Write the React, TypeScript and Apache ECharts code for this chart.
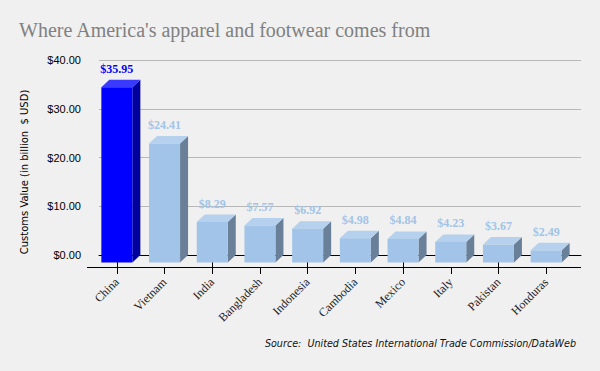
import React, { useEffect, useRef } from "react";
import * as echarts from "echarts";

const categories = ["China", "Vietnam", "India", "Bangladesh", "Indonesia", "Cambodia", "Mexico", "Italy", "Pakistan", "Honduras"];
const values = [35.95, 24.41, 8.29, 7.57, 6.92, 4.98, 4.84, 4.23, 3.67, 2.49];
const highlighted = ["China"];
const yTicks = [0, 10, 20, 30, 40];

const TITLE = "Where America's apparel and footwear comes from";
const Y_NAME = "Customs Value (in billion  $ USD)";
const SOURCE = "Source:  United States International Trade Commission/DataWeb";

const normalColors = { front: "#a1c4e8", side: "#6a8099", top: "#b5d1ee", label: "#a1c4e8" };
const hiColors = { front: "#0000ff", side: "#00009c", top: "#3a3aff", label: "#0000ff" };

export default function App() {
  const ref = useRef<HTMLDivElement>(null);
  useEffect(() => {
    document.body.style.margin = "0";
    if (!ref.current) return;
    const chart = echarts.init(ref.current, undefined, { renderer: "svg" });
    const DX = 8;
    const DY = 7.5;
    const option: any = {
      animation: false,
      backgroundColor: "#f0f0f0",
      title: {
        text: TITLE,
        left: 19,
        top: 20,
        padding: 0,
        textStyle: { fontFamily: "Liberation Serif", fontSize: 20, fontWeight: "normal", color: "#808080" },
      },
      graphic: [
        {
          type: "line",
          shape: { x1: 87, y1: 267.5, x2: 581, y2: 267.5 },
          style: { stroke: "#000", lineWidth: 1 },
          z: 10,
        },
        {
          type: "text",
          x: 24.5,
          y: 172,
          rotation: Math.PI / 2,
          style: {
            text: Y_NAME,
            fontFamily: "DejaVu Sans",
            fontSize: 10,
            fill: "#000",
            align: "center",
            verticalAlign: "middle",
          },
        },
        {
          type: "text",
          right: 24,
          top: 338,
          style: {
            text: SOURCE,
            fontFamily: "DejaVu Sans",
            fontStyle: "italic",
            fontSize: 9.6,
            fill: "#111",
          },
        },
      ],
      grid: [
        { left: 99, width: 482, top: 60, height: 195 },
        { left: 101, width: 477, top: 60, height: 195 },
        { left: 93, width: 477, top: 67, height: 200 },
      ],
      xAxis: [
        {
          type: "category",
          gridIndex: 0,
          data: categories,
          axisLine: { show: true, lineStyle: { color: "#000", width: 1 } },
          axisTick: { show: false },
          axisLabel: { show: false },
        },
        {
          type: "category",
          gridIndex: 1,
          data: categories,
          show: false,
        },
        {
          type: "category",
          gridIndex: 2,
          data: categories,
          axisLine: { show: false },
          axisTick: { show: true, alignWithLabel: true, length: 7, lineStyle: { color: "#000" } },
          axisLabel: {
            rotate: 45,
            margin: 13,
            fontFamily: "Liberation Serif",
            fontSize: 12,
            color: "#222",
          },
        },
        {
          type: "category",
          gridIndex: 2,
          data: categories,
          position: "bottom",
          axisLine: { show: false },
          axisTick: { show: true, inside: true, alignWithLabel: true, length: 5, lineStyle: { color: "#000" } },
          axisLabel: { show: false },
        },
      ],
      yAxis: [
        {
          type: "value",
          gridIndex: 0,
          min: yTicks[0],
          max: yTicks[yTicks.length - 1],
          interval: 10,
          axisLine: { show: false },
          axisTick: { show: false },
          splitLine: { lineStyle: { color: "#b8b8b8", width: 1 } },
          axisLabel: {
            margin: 18,
            fontFamily: "Liberation Sans",
            fontSize: 11,
            color: "#000",
            formatter: (v: number) => "$" + v.toFixed(2),
          },
        },
        { type: "value", gridIndex: 1, min: 0, max: 40, show: false },
        { type: "value", gridIndex: 2, min: 0, max: 40, show: false },
      ],
      series: [
        {
          type: "custom",
          xAxisIndex: 1,
          yAxisIndex: 1,
          data: values.map((v, i) => [i, v]),
          renderItem: (params: any, api: any) => {
            const idx = api.value(0);
            const v = api.value(1);
            const top = api.coord([idx, v]);
            const base = api.coord([idx, 0]);
            const bw = api.size([1, 0])[0] * 0.65;
            const c = highlighted.includes(categories[idx]) ? hiColors : normalColors;
            const fx0 = top[0] - DX - bw / 2;
            const fx1 = fx0 + bw;
            const ft = top[1] + DY;
            const fb = base[1] + DY;
            return {
              type: "group",
              children: [
                {
                  type: "polygon",
                  shape: { points: [[fx1, ft], [fx1 + DX, ft - DY], [fx1 + DX, fb - DY], [fx1, fb]] },
                  style: { fill: c.side },
                },
                {
                  type: "polygon",
                  shape: { points: [[fx0, ft], [fx1, ft], [fx1 + DX, ft - DY], [fx0 + DX, ft - DY]] },
                  style: { fill: c.top },
                },
                {
                  type: "rect",
                  shape: { x: fx0, y: ft, width: bw, height: fb - ft },
                  style: { fill: c.front },
                },
                {
                  type: "text",
                  x: top[0] - DX,
                  y: top[1] - 11,
                  style: {
                    text: "$" + v.toFixed(2),
                    fontFamily: "Liberation Serif",
                    fontWeight: "bold",
                    fontSize: 12,
                    fill: c.label,
                    align: "center",
                    verticalAlign: "middle",
                  },
                },
              ],
            };
          },
        },
      ],
    };
    chart.setOption(option);
    return () => chart.dispose();
  }, []);
  return <div ref={ref} style={{ width: 600, height: 371 }} />;
}
